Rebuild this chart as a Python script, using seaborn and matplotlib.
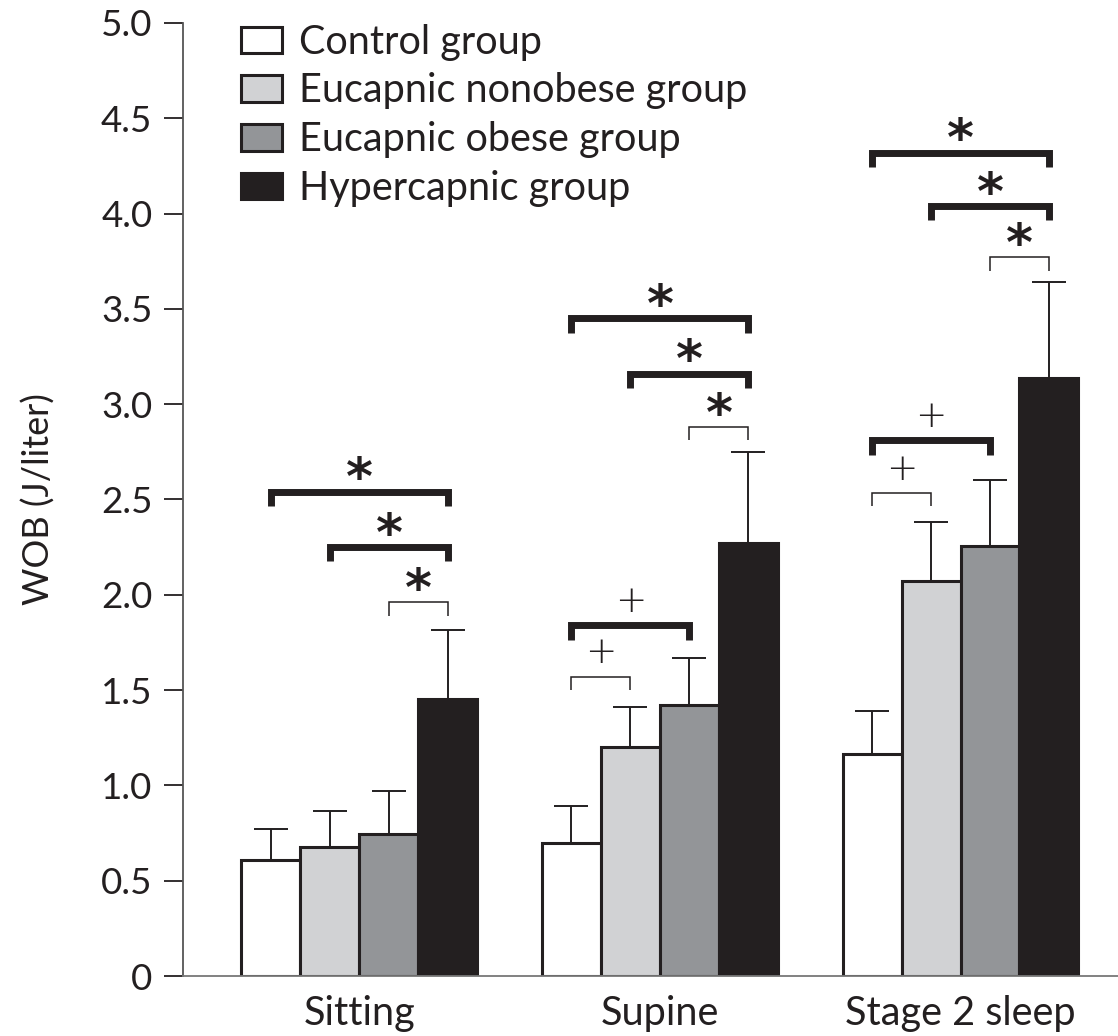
import matplotlib
matplotlib.use("Agg")
import matplotlib.pyplot as plt
import seaborn as sns
import pandas as pd
import numpy as np

# ---- data ----
conditions = ["Sitting", "Supine", "Stage 2 sleep"]
groups = ["Control group", "Eucapnic nonobese group", "Eucapnic obese group", "Hypercapnic group"]
control_mean = [0.61, 0.70, 1.165]
nonobese_mean = [0.675, 1.20, 2.07]
obese_mean = [0.745, 1.42, 2.255]
hyper_mean = [1.455, 2.27, 3.135]
control_err = [0.16, 0.19, 0.225]
nonobese_err = [0.19, 0.21, 0.31]
obese_err = [0.225, 0.25, 0.345]
hyper_err = [0.36, 0.48, 0.505]
y_ticks = [0, 0.5, 1.0, 1.5, 2.0, 2.5, 3.0, 3.5, 4.0, 4.5, 5.0]
y_tick_labels = ["0", "0.5", "1.0", "1.5", "2.0", "2.5", "3.0", "3.5", "4.0", "4.5", "5.0"]
# significance brackets: (condition index, group i, group j, bracket y, symbol, thick)
brackets = [
    (0, 0, 3, 2.54, "*", True), (0, 1, 3, 2.25, "*", True), (0, 2, 3, 1.96, "*", False),
    (1, 0, 3, 3.45, "*", True), (1, 1, 3, 3.16, "*", True), (1, 2, 3, 2.88, "*", False),
    (1, 0, 2, 1.84, "+", True), (1, 0, 1, 1.57, "+", False),
    (2, 0, 3, 4.32, "*", True), (2, 1, 3, 4.04, "*", True), (2, 2, 3, 3.77, "*", False),
    (2, 0, 2, 2.81, "+", True), (2, 0, 1, 2.535, "+", False),
]

means = [control_mean, nonobese_mean, obese_mean, hyper_mean]
errs = [control_err, nonobese_err, obese_err, hyper_err]
rows = []
for g, m, e in zip(groups, means, errs):
    for c, mv, ev in zip(conditions, m, e):
        rows.append({"condition": c, "group": g, "wob": mv, "err": ev})
df = pd.DataFrame(rows)

dark = "#231f20"
palette = {groups[0]: "#ffffff", groups[1]: "#d1d2d4", groups[2]: "#939598", groups[3]: "#231f20"}

sns.set_style("ticks")
plt.rcParams["font.family"] = ["Lato", "DejaVu Sans"]
plt.rcParams["text.color"] = dark
plt.rcParams["axes.labelcolor"] = dark
plt.rcParams["xtick.color"] = dark
plt.rcParams["ytick.color"] = dark

fig = plt.figure(figsize=(11.18, 10.36), dpi=100)
ax = fig.add_axes([183 / 1118, 60 / 1036, 1 - 183 / 1118, (976 - 23) / 1036])

sns.barplot(data=df, x="condition", y="wob", hue="group", order=conditions,
            hue_order=groups, palette=palette, width=0.785, errorbar=None,
            edgecolor=dark, linewidth=2.2, ax=ax, saturation=1)

# bar centres from the drawn patches
centres = {}
bars = [p for p in ax.patches if p.get_height() > 0]
bars_sorted = sorted(bars, key=lambda p: p.get_x())
for k, p in enumerate(bars_sorted):
    ci, gi = divmod(k, 4)
    centres[(ci, gi)] = p.get_x() + p.get_width() / 2

for gi, (m, e) in enumerate(zip(means, errs)):
    xs = [centres[(ci, gi)] for ci in range(3)]
    ax.errorbar(xs, m, yerr=[np.zeros(3), e], fmt="none", ecolor=dark,
                elinewidth=1.4, capsize=12, capthick=1.4, zorder=1)

for ci, gi, gj, yb, sym, thick in brackets:
    x1, x2 = centres[(ci, gi)], centres[(ci, gj)]
    leg = 0.075 if thick else 0.07
    lw = 5.0 if thick else 1.1
    ax.plot([x1, x1, x2, x2], [yb - leg, yb, yb, yb - leg], color=dark, lw=lw,
            solid_joinstyle="miter", solid_capstyle="butt", clip_on=False)
    if sym == "*":
        ax.text((x1 + x2) / 2, yb + 0.06, "*", ha="center", va="center",
                fontsize=37, color=dark, family="DejaVu Sans", fontweight="bold")
    else:
        ax.text((x1 + x2) / 2, yb + 0.125, "+", ha="center", va="center",
                fontsize=27, color=dark, family="DejaVu Sans", fontweight="light")

ax.set_xlim(-0.587, 2.524)
ax.set_ylim(0, 5.0)
ax.set_yticks(y_ticks)
ax.set_yticklabels(y_tick_labels)
ax.tick_params(axis="y", length=14, width=1.3, labelsize=26.5, pad=8, direction="out")
ax.tick_params(axis="x", length=0, labelsize=28.5, pad=14)
ax.set_xlabel("")
ax.set_ylabel("WOB (J/liter)", fontsize=26, labelpad=33)
sns.despine(ax=ax, top=True, right=True)
ax.spines["left"].set_color("#555555")
ax.spines["left"].set_linewidth(1.3)
ax.spines["bottom"].set_color("#777777")
ax.spines["bottom"].set_linewidth(1.3)

handles, labels = ax.get_legend_handles_labels()
ax.legend(handles, labels, loc="upper left", bbox_to_anchor=(0.045, 1.016),
          frameon=False, fontsize=28.5, handlelength=1.05, handleheight=0.64,
          handletextpad=0.42, labelspacing=0.3, borderaxespad=0)

fig.savefig("out.png", dpi=100)
